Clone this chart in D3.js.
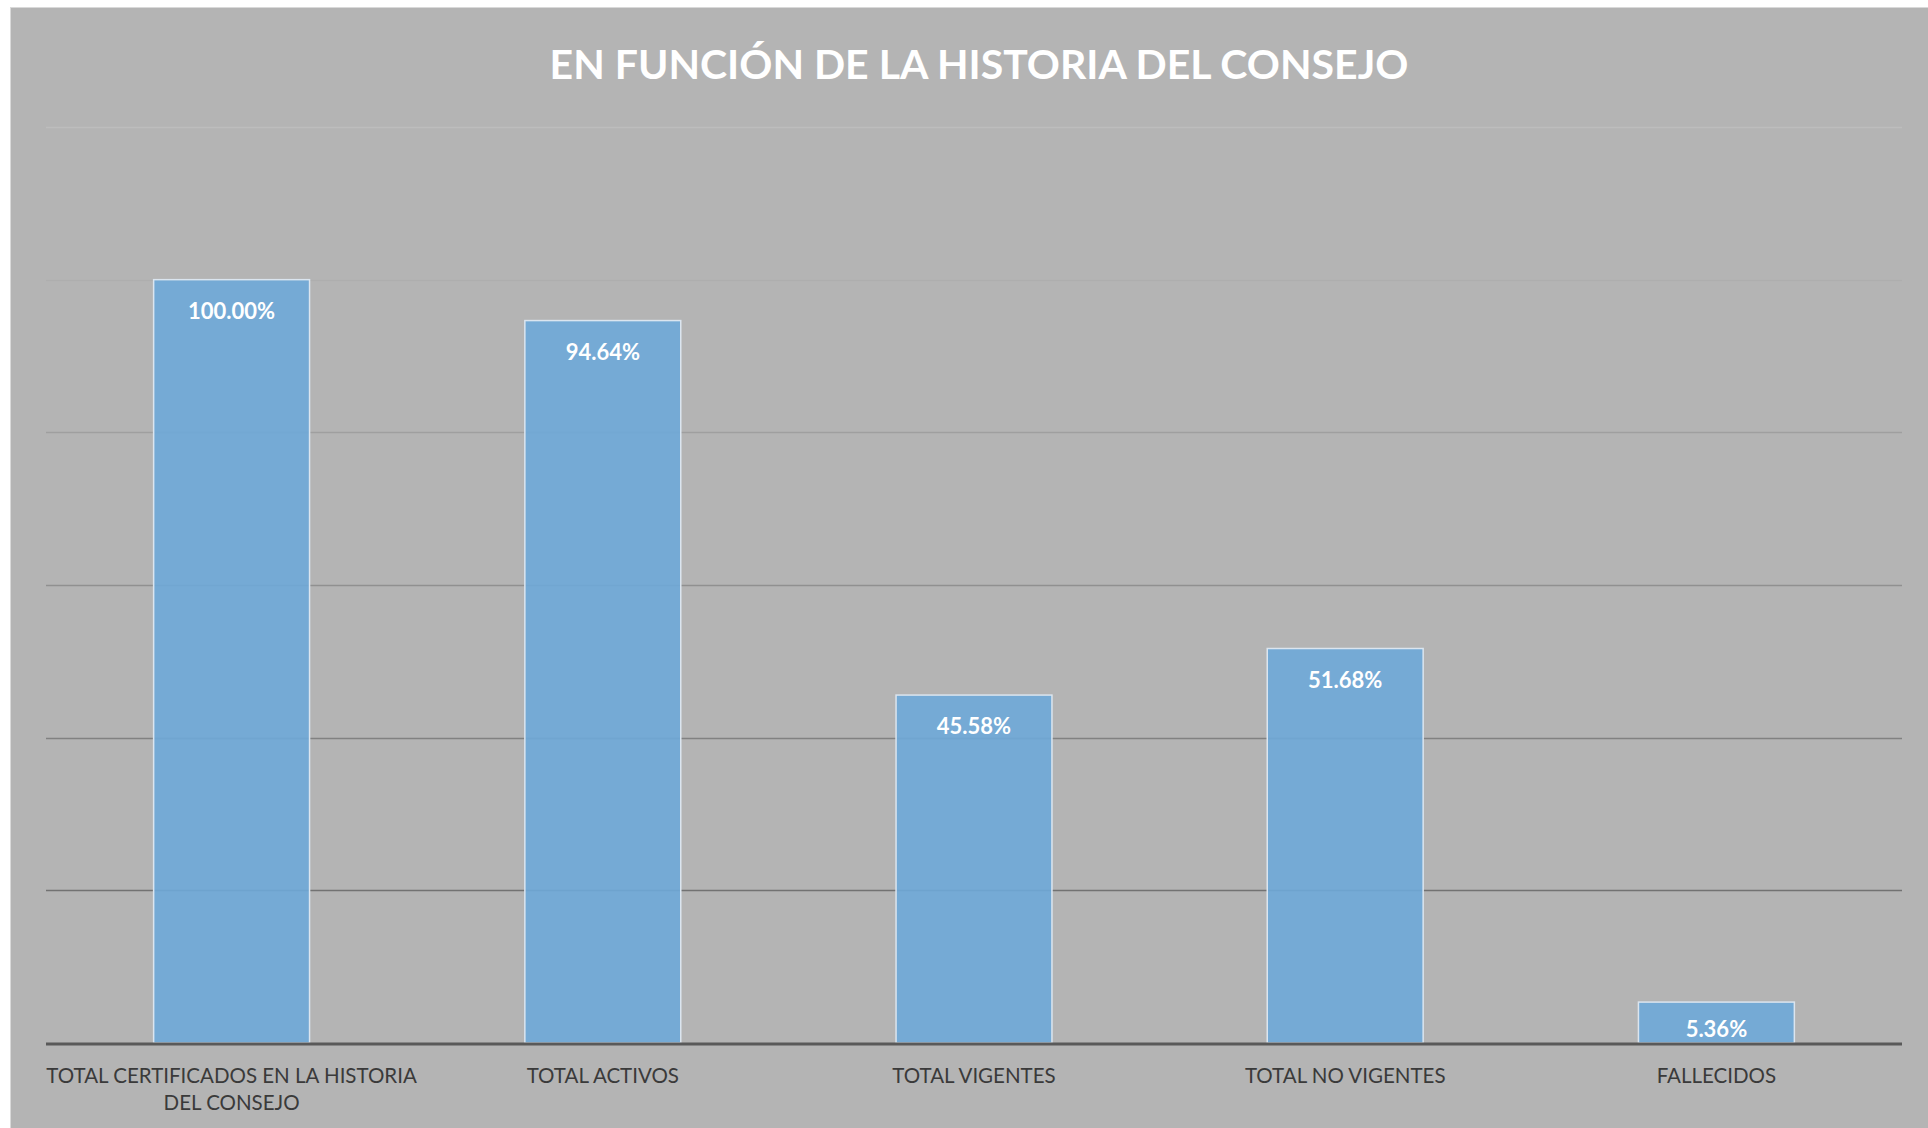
<!DOCTYPE html>
<html>
<head>
<meta charset="utf-8">
<script src="https://cdn.jsdelivr.net/npm/d3@7"></script>
<style>
    html, body {
        margin: 0;
        padding: 0;
        background: #ffffff;
    }

    #chart-svg {
        display: block;
    }
</style>
</head>
<body>
<svg id="chart-svg" width="1928" height="1128"></svg>
<script>
    // data
    const categories = [
        "TOTAL CERTIFICADOS EN LA HISTORIA\nDEL CONSEJO",
        "TOTAL ACTIVOS",
        "TOTAL VIGENTES",
        "TOTAL NO VIGENTES",
        "FALLECIDOS"
    ];
    const values = [1.0, 0.9464, 0.4558, 0.5168, 0.0536];
    const yTicks = [0, 0.2, 0.4, 0.6, 0.8, 1.0, 1.2];
    const title = "EN FUNCIÓN DE LA HISTORIA DEL CONSEJO";

    const width = 1928, height = 1128;
    const margin = { top: 127, right: 26, bottom: 85, left: 46 };

    let svg = d3.select("#chart-svg");

    // chart area background
    svg.append("rect")
        .attr("x", 10.5)
        .attr("y", 7.5)
        .attr("width", width - 10)
        .attr("height", height - 7)
        .attr("fill", "#b4b4b4")
        .attr("stroke", "#d9d9d9")
        .attr("stroke-width", 1);

    let x = d3.scaleBand()
        .domain(categories)
        .range([margin.left, width - margin.right])
        .paddingInner(0.58)
        .paddingOuter(0.29);

    let y = d3.scaleLinear()
        .domain([0, 1.2])
        .range([height - margin.bottom, margin.top]);

    // gridlines get darker towards the bottom, like the original
    let gridColor = d3.scaleLinear()
        .domain([1.2, 0.2])
        .range(["#bdbdbd", "#727272"]);

    let grid = svg.append("g").attr("class", "grid");
    grid.selectAll("line")
        .data(yTicks.filter(d => d > 0))
        .join("line")
        .attr("x1", margin.left)
        .attr("x2", width - margin.right)
        .attr("y1", d => Math.round(y(d)) + 0.5)
        .attr("y2", d => Math.round(y(d)) + 0.5)
        .attr("stroke", d => gridColor(d))
        .attr("stroke-width", 1.5);

    // bars
    let bars = svg.append("g").attr("class", "bars");
    bars.selectAll("rect")
        .data(values)
        .join("rect")
        .attr("x", (d, i) => x(categories[i]))
        .attr("y", d => y(d))
        .attr("width", x.bandwidth())
        .attr("height", d => y(0) - y(d))
        .attr("fill", "#6ea9d8")
        .attr("fill-opacity", 0.9)
        .attr("stroke", "#dbe5ef")
        .attr("stroke-width", 1.5);

    // value labels inside the bars (kept inside short bars too)
    bars.selectAll("text")
        .data(values)
        .join("text")
        .attr("x", (d, i) => x(categories[i]) + x.bandwidth() / 2)
        .attr("y", d => Math.min(y(d) + 39, y(0) - 6))
        .attr("text-anchor", "middle")
        .attr("font-family", "Lato, 'Open Sans', sans-serif")
        .attr("font-weight", "bold")
        .attr("font-size", 22)
        .attr("fill", "#ffffff")
        .text(d => d3.format(".2%")(d));

    // x axis line
    svg.append("line")
        .attr("x1", margin.left)
        .attr("x2", width - margin.right)
        .attr("y1", y(0) + 1)
        .attr("y2", y(0) + 1)
        .attr("stroke", "#595959")
        .attr("stroke-width", 3);

    // category labels
    let xLabels = svg.append("g").attr("class", "x-labels");
    xLabels.selectAll("text")
        .data(categories)
        .join("text")
        .attr("x", d => x(d) + x.bandwidth() / 2)
        .attr("y", y(0) + 40)
        .attr("text-anchor", "middle")
        .attr("font-family", "Lato, 'Open Sans', sans-serif")
        .attr("font-size", 20.5)
        .attr("fill", "#3a3a3a")
        .each(function(d) {
            let lines = d.split("\n");
            let t = d3.select(this);
            lines.forEach((line, k) => {
                t.append("tspan")
                    .attr("x", x(d) + x.bandwidth() / 2)
                    .attr("dy", k === 0 ? 0 : 27)
                    .text(line);
            });
        });

    // title
    svg.append("text")
        .attr("x", (10 + width) / 2 + 10)
        .attr("y", 79)
        .attr("text-anchor", "middle")
        .attr("font-family", "Lato, 'Open Sans', sans-serif")
        .attr("font-weight", "bold")
        .attr("font-size", 41)
        .attr("fill", "#ffffff")
        .text(title);
</script>
</body>
</html>
